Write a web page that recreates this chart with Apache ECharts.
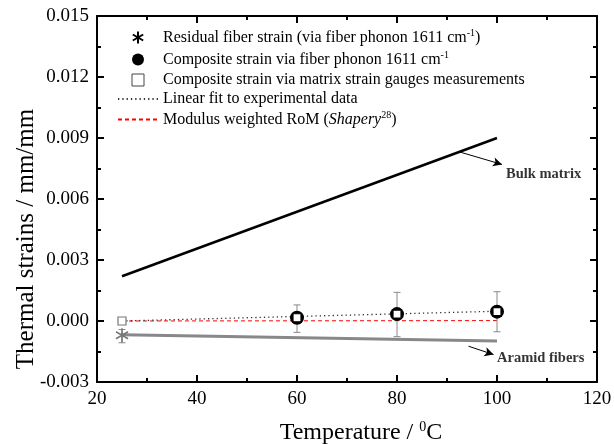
<!DOCTYPE html>
<html><head><meta charset="utf-8">
<script src="https://cdn.jsdelivr.net/npm/echarts@6/dist/echarts.min.js"></script>
<style>html,body{margin:0;padding:0;background:#fff}#c{width:614px;height:444px}</style>
</head><body><div id="c"></div>
<script>
// ---- data ----
const xTicks = [20, 40, 60, 80, 100, 120];
const residualX = [25];
const residualY = [-0.0007];
const residualLo = [-0.00107];
const residualHi = [-0.00042];
const phononX = [60, 80, 100];
const phononY = [0.00016, 0.00034, 0.00046];
const phononLo = [-0.00056, -0.00077, -0.00053];
const phononHi = [0.00079, 0.00141, 0.00144];
const gaugeX = [25, 60, 80, 100];
const gaugeY = [0.0, 0.00016, 0.00034, 0.00046];
const fitX = [25, 100];
const fitY = [0.0, 0.00048];
const romX = [25, 100];
const romY = [0.0, 0.00002];
const bulkX = [25, 100];
const bulkY = [0.0022, 0.0090];
const aramidX = [25, 100];
const aramidY = [-0.00068, -0.00098];
const annotText = ['Bulk matrix', 'Aramid fibers'];
const annotPos = [[101.7, 0.00722], [99.9, -0.00184]];
const arrowFrom = [[92.7, 0.0083], [94.3, -0.00124]];
const arrowTo = [[101, 0.0077], [99.3, -0.00165]];
const names = [
  'Residual fiber strain (via fiber phonon 1611 cm{sup|-1})',
  'Composite strain via fiber phonon 1611 cm{sup|-1}',
  'Composite strain via matrix strain gauges measurements',
  'Linear fit to experimental data',
  'Modulus weighted RoM ({it|Shapery}{sup|28})'
];
// ---------------
const zip = (a, b) => a.map((v, i) => [v, b[i]]);
const F = 'Liberation Serif';
const SQ = 'path://M0,0L10,0L10,10L0,10Z';
const errData = residualX.map((x, i) => [x, residualLo[i], residualHi[i]])
  .concat(phononX.map((x, i) => [x, phononLo[i], phononHi[i]]));
const chart = echarts.init(document.getElementById('c'));
const axisCommon = {
  axisLine: {onZero: false, lineStyle: {color: '#000', width: 2}},
  axisTick: {inside: true, length: 7, lineStyle: {color: '#000', width: 2}},
  minorTick: {show: true, splitNumber: 2, length: 4, lineStyle: {color: '#000', width: 2}},
  splitLine: {show: false}
};
chart.setOption({
  animation: false,
  backgroundColor: '#fff',
  grid: {left: 97, right: 17, top: 16, bottom: 62, containLabel: false, outerBoundsMode: 'none'},
  legend: {
    orient: 'vertical', left: 117, top: 28, padding: 0,
    itemWidth: 40, itemHeight: 12, itemGap: 3, selectedMode: false,
    data: [
      {name: names[0], itemStyle: {borderColor: '#000'}},
      {name: names[1]},
      {name: names[2], itemStyle: {borderWidth: 1, borderColor: '#444'}},
      {name: names[3], itemStyle: {opacity: 0}},
      {name: names[4], itemStyle: {opacity: 0}}
    ],
    formatter: n => n,
    textStyle: {fontFamily: F, fontSize: 16, lineHeight: 16, color: '#000',
      rich: {sup: {fontFamily: F, fontSize: 10, lineHeight: 10, padding: [0, 0, 9, 0]},
             it: {fontFamily: F, fontSize: 16, fontStyle: 'italic'}}}
  },
  xAxis: [
    Object.assign({type: 'value', min: 20, max: 120, interval: 20,
      name: 'Temperature / {sup|0}C', nameLocation: 'middle', nameGap: 38, nameMoveOverlap: false,
      nameTextStyle: {fontFamily: F, fontSize: 24, color: '#000', padding: [0, 0, 0, 28],
        rich: {sup: {fontFamily: F, fontSize: 14, padding: [0, 0, 12, 0]}}},
      axisLabel: {fontFamily: F, fontSize: 19, color: '#000', margin: 8}}, axisCommon),
    Object.assign({type: 'value', position: 'top', min: 20, max: 120, interval: 20,
      axisLabel: {show: false}}, axisCommon)
  ],
  yAxis: [
    Object.assign({type: 'value', min: -0.003, max: 0.015, interval: 0.003,
      name: 'Thermal strains / mm/mm', nameLocation: 'middle', nameGap: 58, nameMoveOverlap: false,
      nameTextStyle: {fontFamily: F, fontSize: 25, color: '#000', padding: [0, 80, 0, 0]},
      axisLabel: {fontFamily: F, fontSize: 19, color: '#000', margin: 8,
        formatter: v => v.toFixed(3)}}, axisCommon),
    Object.assign({type: 'value', position: 'right', min: -0.003, max: 0.015, interval: 0.003,
      axisLabel: {show: false}}, axisCommon)
  ],
  series: [
    {name: 'bulk', type: 'line', data: zip(bulkX, bulkY), symbol: 'none',
      lineStyle: {color: '#000', width: 2.5}, z: 3,
      markLine: {silent: true, symbol: ['none', 'arrow'], symbolSize: [7, 9],
        label: {show: false}, lineStyle: {color: '#000', width: 1, type: 'solid'},
        data: arrowFrom.map((p, i) => [{coord: p}, {coord: arrowTo[i]}])}},
    {name: 'aramid', type: 'line', data: zip(aramidX, aramidY), symbol: 'none',
      lineStyle: {color: '#888', width: 3}, z: 3},
    {name: names[4], type: 'line', data: zip(romX, romY), symbol: 'none',
      lineStyle: {color: '#ff0000', width: 1, type: [4, 3]}, itemStyle: {color: '#ff0000'}, z: 4},
    {name: names[3], type: 'line', data: zip(fitX, fitY), symbol: 'none',
      lineStyle: {color: '#333', width: 1.3, type: [1.3, 3]}, itemStyle: {color: '#333'}, z: 4},
    {name: 'err', type: 'custom', z: 5,
      renderItem: (params, api) => {
        const x = api.value(0);
        const lo = api.coord([x, api.value(1)]);
        const hi = api.coord([x, api.value(2)]);
        const c = 3.5;
        const st = {stroke: '#888', lineWidth: 1};
        return {type: 'group', children: [
          {type: 'line', shape: {x1: lo[0], y1: lo[1], x2: hi[0], y2: hi[1]}, style: st},
          {type: 'line', shape: {x1: lo[0] - c, y1: lo[1], x2: lo[0] + c, y2: lo[1]}, style: st},
          {type: 'line', shape: {x1: hi[0] - c, y1: hi[1], x2: hi[0] + c, y2: hi[1]}, style: st}
        ]};
      },
      encode: {x: 0, y: [1, 2]},
      data: errData},
    {name: names[0], type: 'scatter', data: zip(residualX, residualY), z: 6,
      symbol: 'path://M0,-1L0,1M-0.866,-0.5L0.866,0.5M-0.866,0.5L0.866,-0.5',
      symbolSize: 14, symbolKeepAspect: true,
      itemStyle: {color: 'rgba(0,0,0,0)', borderColor: '#777', borderWidth: 1.5, opacity: 1}},
    {name: names[1], type: 'scatter', data: zip(phononX, phononY), z: 7,
      symbol: 'circle', symbolSize: 14, symbolKeepAspect: true,
      itemStyle: {color: '#000', opacity: 1}},
    {name: names[2], type: 'scatter', z: 8,
      data: gaugeX.map((x, i) => i === 0 ? [x, gaugeY[i]] :
        {value: [x, gaugeY[i]], itemStyle: {borderColor: '#000'}}),
      symbol: SQ, symbolSize: 8, symbolKeepAspect: true,
      itemStyle: {color: '#fff', borderColor: '#777', borderWidth: 1.2, opacity: 1}},
    {name: 'annot', type: 'scatter', z: 9, symbolSize: 1, silent: true,
      itemStyle: {color: 'rgba(0,0,0,0)'},
      data: annotPos.map((p, i) => ({value: p, name: annotText[i]})),
      label: {show: true, position: 'right', distance: 0, formatter: p => p.name,
        fontFamily: F, fontSize: 14.5, fontWeight: 'bold', color: '#000'}}
  ]
});
</script></body></html>
